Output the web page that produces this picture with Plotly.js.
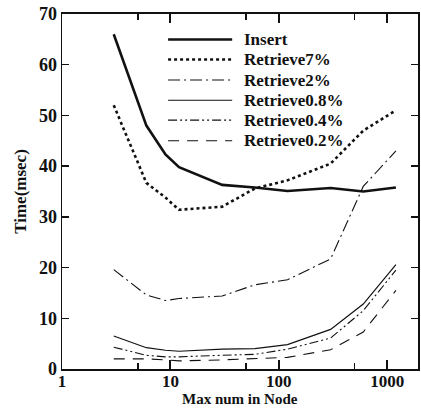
<!DOCTYPE html>
<html>
<head>
<meta charset="utf-8">
<script src="https://cdn.plot.ly/plotly-3.0.1.min.js"></script>
<style>html,body{margin:0;padding:0;background:#fff;}#chart{width:421px;height:409px;}</style>
</head>
<body>
<div id="chart"></div>
<script>
// Data
const maxNum = [3, 6, 9, 12, 30, 60, 120, 300, 600, 1200];
const insert = [66, 48, 42.3, 39.8, 36.3, 35.8, 35.1, 35.7, 35.0, 35.8];
const retrieve7 = [52, 36.7, 33.8, 31.4, 32, 35.6, 37.2, 40.5, 47, 51];
const retrieve2 = [19.6, 14.6, 13.5, 13.9, 14.4, 16.6, 17.6, 21.7, 36, 43];
const retrieve08 = [6.5, 4.2, 3.7, 3.5, 3.9, 4.0, 4.8, 7.8, 12.8, 20.6];
const retrieve04 = [4.3, 2.7, 2.4, 2.4, 2.7, 2.9, 3.9, 6.1, 11.5, 19.5];
const retrieve02 = [2.0, 2.0, 1.8, 1.6, 1.8, 2.0, 2.3, 3.8, 7.3, 15.5];
const seriesNames = ["Insert", "Retrieve7%", "Retrieve2%", "Retrieve0.8%", "Retrieve0.4%", "Retrieve0.2%"];
const seriesValues = [insert, retrieve7, retrieve2, retrieve08, retrieve04, retrieve02];
const xTickVals = [1, 10, 100, 1000];
const xTickText = ["1", "10", "100", "1000"];
const xMinorVals = [5, 50, 500];
const yTickVals = [0, 10, 20, 30, 40, 50, 60, 70];
const xTitle = "Max num in Node";
const yTitle = "Time(msec)";

const FONT = "'Liberation Serif', 'Times New Roman', Times, serif";

const styles = [
  {width: 2.6, dash: "solid"},
  {width: 2.6, dash: "dot"},
  {width: 1.1, dash: "12px,4px,2px,4px"},
  {width: 1.2, dash: "solid"},
  {width: 1.1, dash: "9px,3px,2px,3px,2px,3px"},
  {width: 1.1, dash: "11px,8px"}
];

const traces = seriesValues.map((v, i) => ({
  x: maxNum, y: v, type: "scatter", mode: "lines", name: seriesNames[i],
  line: {color: "#111", width: styles[i].width, dash: styles[i].dash},
  showlegend: false
}));

// manual legend inside plot
const rowY = [0.928, 0.872, 0.814, 0.757, 0.701, 0.643];
const shapes = [];
const annotations = [];
seriesNames.forEach((n, i) => {
  shapes.push({type: "line", xref: "paper", yref: "paper", x0: 0.298, x1: 0.478, y0: rowY[i], y1: rowY[i],
    line: {color: "#111", width: styles[i].width, dash: styles[i].dash}});
  annotations.push({xref: "paper", yref: "paper", x: 0.505, y: rowY[i], xanchor: "left", yanchor: "middle",
    text: "<b>" + n + "</b>", showarrow: false, font: {family: FONT, size: 17, color: "#111"}});
});
// x-axis title as a fixed annotation below tick labels
annotations.push({xref: "paper", yref: "paper", x: 0.5, y: -0.1127, xanchor: "center", yanchor: "bottom",
  text: "<b>" + xTitle + "</b>", showarrow: false, font: {family: FONT, size: 15, color: "#111"}});

const layout = {
  width: 421, height: 409,
  margin: {l: 62, r: 3, t: 14, b: 40},
  paper_bgcolor: "#fff", plot_bgcolor: "#fff",
  font: {family: FONT, color: "#111", size: 16},
  xaxis: {
    type: "log", range: [0, 3.283],
    tickmode: "array", tickvals: xTickVals, ticktext: xTickText.map(t => "<b>" + t + "</b>"),
    ticks: "inside", ticklen: 9, tickwidth: 2, tickcolor: "#111",
    ticklabelstandoff: -4,
    minor: {tickmode: "array", tickvals: xMinorVals, ticks: "inside", ticklen: 6, tickwidth: 1.5, tickcolor: "#111"},
    showgrid: false, zeroline: false,
    showline: true, linecolor: "#111", linewidth: 2, mirror: "ticks",
    tickfont: {family: FONT, size: 17, color: "#111"},
    automargin: false
  },
  yaxis: {
    range: [0, 70], tickmode: "array", tickvals: yTickVals,
    ticktext: yTickVals.map(t => "<b>" + t + "</b>"),
    ticks: "inside", ticklen: 7, tickwidth: 1.5, tickcolor: "#111",
    showgrid: false, zeroline: false,
    showline: true, linecolor: "#111", linewidth: 1.5, mirror: "ticks",
    tickfont: {family: FONT, size: 18, color: "#111"},
    automargin: false,
    title: {text: "<b>" + yTitle + "</b>", font: {family: FONT, size: 17, color: "#111"}, standoff: 8}
  },
  shapes: shapes,
  annotations: annotations
};

Plotly.newPlot("chart", traces, layout, {staticPlot: true, displayModeBar: false});
</script>
</body>
</html>
